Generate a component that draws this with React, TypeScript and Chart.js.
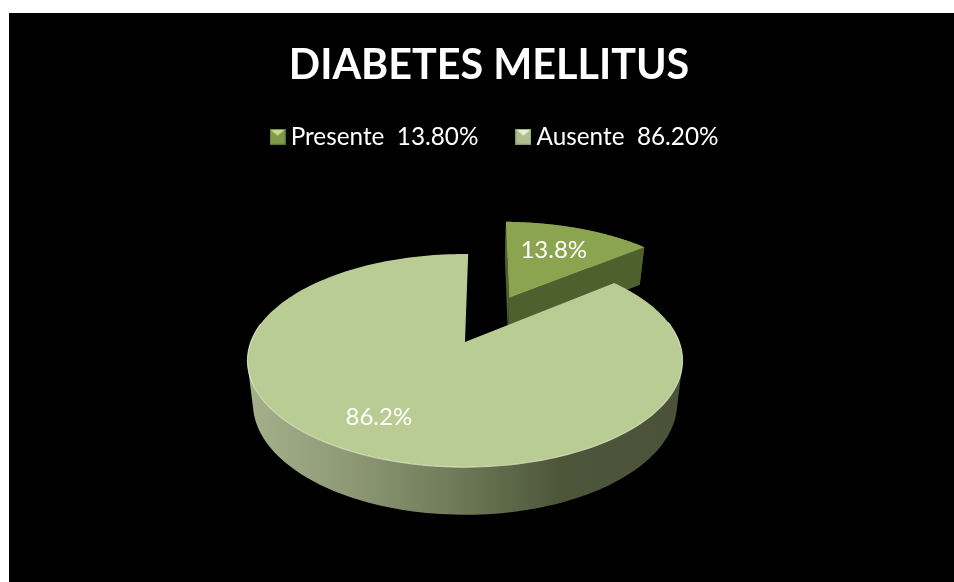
import React, { useEffect, useRef } from "react";
import { Chart, registerables } from "chart.js";

Chart.register(...registerables);

const titleText = "DIABETES MELLITUS";
const categories = ["Presente", "Ausente"];
const values = [13.8, 86.2];
const explosion = [0.51, 0];
const showWall = [true, false];
const labelRadius = [0.65, 0.74];
const labelAngleNudge = [-1.5, 3];
const topColors = ["#8ba44f", "#b8cc93"];
const wallColors = ["#4f602f", "#4f573b"];
const swatchColors = [
  { base: "#7f9a48", light: "#c9dd8c", dark: "#5f7533" },
  { base: "#aebf8c", light: "#e6efcf", dark: "#8b9a6d" },
];

const FONT = "Lato, 'Open Sans', sans-serif";
const CANVAS_W = 945;
const CANVAS_H = 569;
const CX = 456;
const CY = 329;
const A = 103.3;
const B = 214.2;
const P = 0.174;
const SHRINK = 0.975;
const DEPTH = 42;

type Pt = [number, number];

function top(u: number, v: number): Pt {
  const d = 1 - P * v;
  return [CX + (B * u) / d, CY + (A * v) / d];
}
function bottom(u: number, v: number): Pt {
  const d = 1 - P * v;
  return [CX + (SHRINK * B * u) / d, CY + (SHRINK * A * v + DEPTH) / d];
}

function makeSwatch(c: { base: string; light: string; dark: string }) {
  const s = document.createElement("canvas");
  s.width = 16;
  s.height = 16;
  const g = s.getContext("2d") as CanvasRenderingContext2D;
  g.fillStyle = c.base;
  g.fillRect(0, 0, 16, 16);
  g.fillStyle = c.light;
  g.beginPath();
  g.moveTo(1, 1);
  g.lineTo(15, 1);
  g.lineTo(8, 7);
  g.closePath();
  g.fill();
  g.strokeStyle = c.dark;
  g.strokeRect(0.5, 0.5, 15, 15);
  return s;
}

function signedArea(q: Pt[]) {
  let s = 0;
  q.forEach((p, n) => {
    const o = q[(n + 1) % q.length];
    s += p[0] * o[1] - o[0] * p[1];
  });
  return s;
}

const pie3d = {
  id: "pie3d",
  afterLayout(chart: any) {
    chart.legend.left += 8.5;
    chart.legend.right += 8.5;
    chart.legend.top -= 10;
  },
  beforeDatasetsDraw(chart: any) {
    const ctx: CanvasRenderingContext2D = chart.ctx;
    const arcs = chart.getDatasetMeta(0).data;
    arcs.forEach((arc: any, i: number) => {
      const a0 = arc.startAngle + Math.PI / 2;
      const a1 = arc.endAngle + Math.PI / 2;
      const mid = (a0 + a1) / 2;
      const ou = Math.sin(mid) * explosion[i];
      const ov = -Math.cos(mid) * explosion[i];
      const steps = 200;
      const rim: [number, number][] = [];
      for (let k = 0; k <= steps; k++) {
        const t = a0 + ((a1 - a0) * k) / steps;
        rim.push([ou + Math.sin(t), ov - Math.cos(t)]);
      }
      const poly = (pts: Pt[]) => {
        ctx.beginPath();
        pts.forEach((p, n) => (n ? ctx.lineTo(p[0], p[1]) : ctx.moveTo(p[0], p[1])));
        ctx.closePath();
      };
      // cut walls
      if (showWall[i]) {
        ctx.fillStyle = wallColors[i];
        [rim[0], rim[steps]].forEach((r) => {
          poly([top(ou, ov), top(r[0], r[1]), bottom(r[0], r[1]), bottom(ou, ov)]);
          ctx.fill();
        });
      }
      // outer side: all swept quads in one path with the same winding, a seamless union
      let side: string | CanvasGradient = wallColors[i];
      if (i === 1) {
        const g = ctx.createLinearGradient(CX - 214, 0, CX + 214, 0);
        g.addColorStop(0, "#a5b08b");
        g.addColorStop(0.25, "#8c9673");
        g.addColorStop(0.5, "#6b7756");
        g.addColorStop(0.72, "#4e563a");
        g.addColorStop(1, "#4b5238");
        side = g;
      }
      ctx.fillStyle = side;
      ctx.beginPath();
      for (let k = 0; k < steps; k++) {
        const r0 = rim[k];
        const r1 = rim[k + 1];
        if (!showWall[i] && r0[1] < -0.3) continue;
        const q: Pt[] = [top(r0[0], r0[1]), top(r1[0], r1[1]), bottom(r1[0], r1[1]), bottom(r0[0], r0[1])];
        if (signedArea(q) < 0) q.reverse();
        q.forEach((p, n) => (n ? ctx.lineTo(p[0], p[1]) : ctx.moveTo(p[0], p[1])));
        ctx.closePath();
      }
      ctx.fill();
      // top face
      ctx.fillStyle = topColors[i];
      poly([top(ou, ov), ...rim.map((r) => top(r[0], r[1]))]);
      ctx.fill();
      if (i === 1) {
        ctx.strokeStyle = "rgba(226,238,204,0.75)";
        ctx.lineWidth = 1.2;
        ctx.beginPath();
        rim.forEach((r, n) => {
          const p = top(r[0], r[1]);
          if (r[1] < -0.2) return;
          if (n === 0 || rim[n - 1][1] < -0.2) ctx.moveTo(p[0], p[1]);
          else ctx.lineTo(p[0], p[1]);
        });
        ctx.stroke();
      }
    });
    return false;
  },
  afterDraw(chart: any) {
    const ctx: CanvasRenderingContext2D = chart.ctx;
    const arcs = chart.getDatasetMeta(0).data;
    ctx.save();
    ctx.fillStyle = "#ffffff";
    ctx.font = `24px ${FONT}`;
    ctx.textAlign = "center";
    ctx.textBaseline = "middle";
    arcs.forEach((arc: any, i: number) => {
      const mid = (arc.startAngle + arc.endAngle) / 2 + Math.PI / 2;
      const m = mid + (labelAngleNudge[i] * Math.PI) / 180;
      const ou = Math.sin(mid) * explosion[i];
      const ov = -Math.cos(mid) * explosion[i];
      const p = top(ou + labelRadius[i] * Math.sin(m), ov - labelRadius[i] * Math.cos(m));
      ctx.fillText(`${values[i].toFixed(1)}%`, p[0], p[1]);
    });
    ctx.restore();
  },
};

export default function App() {
  const ref = useRef<HTMLCanvasElement>(null);
  useEffect(() => {
    const swatches = swatchColors.map(makeSwatch);
    const chart = new Chart(ref.current as HTMLCanvasElement, {
      type: "pie",
      data: {
        labels: categories,
        datasets: [{ data: values, backgroundColor: topColors, borderWidth: 0 }],
      },
      plugins: [pie3d as any],
      options: {
        animation: false,
        responsive: false,
        rotation: 1,
        layout: { padding: { left: 15 } },
        plugins: {
          tooltip: { enabled: false },
          title: {
            display: true,
            text: titleText,
            color: "#ffffff",
            font: { family: FONT, size: 41.3, weight: "bold" },
            padding: { top: 28, bottom: 0 },
          },
          legend: {
            position: "top",
            labels: {
              usePointStyle: true,
              boxWidth: 16,
              pointStyleWidth: 2,
              padding: 44,
              color: "#ffffff",
              font: { family: FONT, size: 24.3 },
              generateLabels: () =>
                categories.map((c, i) => ({
                  text: `${c}  ${values[i].toFixed(2)}%`,
                  pointStyle: swatches[i],
                  fontColor: "#ffffff",
                  fillStyle: topColors[i],
                  lineWidth: 0,
                  hidden: false,
                  index: i,
                })),
            },
          },
        },
      },
    } as any);
    return () => chart.destroy();
  }, []);
  return (
    <canvas
      ref={ref}
      width={CANVAS_W}
      height={CANVAS_H}
      style={{ position: "absolute", left: 9, top: 13, background: "#000", display: "block" }}
    />
  );
}
